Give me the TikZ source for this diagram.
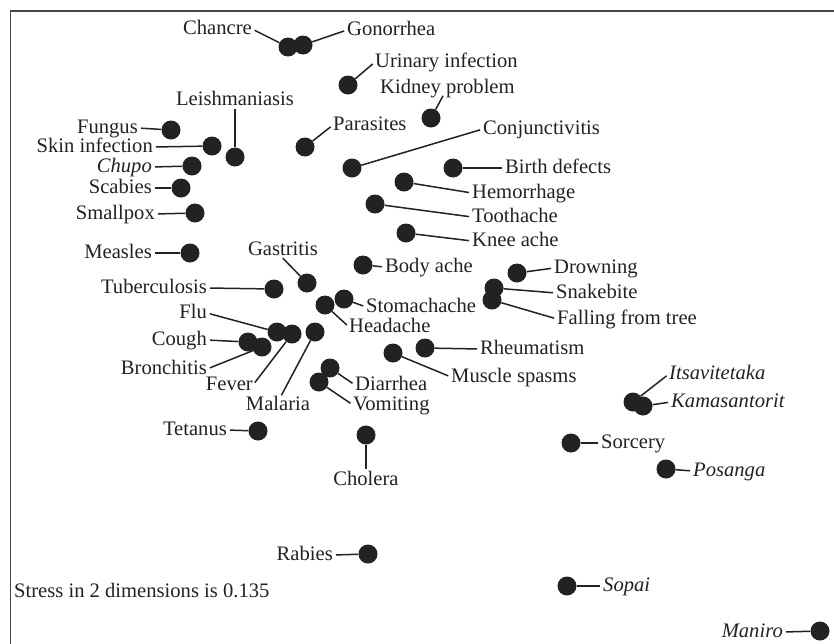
\documentclass[tikz,border=0pt]{standalone}
\usepackage{fontspec}
\setmainfont{Liberation Serif}
\definecolor{ink}{HTML}{222222}
\tikzset{
  dot/.style={circle,fill=ink,draw=none,minimum size=19pt,inner sep=0pt},
  lbl/.style={inner sep=0pt,text height=1.0em,text depth=0pt,text=ink,font=\fontsize{20.6}{24}\selectfont},
  ilbl/.style={lbl,font=\fontsize{20.6}{24}\selectfont\itshape},
  lead/.style={draw=ink,line width=1.5pt},
  frame/.style={draw=ink!85,line width=1.6pt}
}
\begin{document}
\begin{tikzpicture}[x=1pt,y=-1pt]
\clip (0,0) rectangle (834,643);
\fill[white] (0,0) rectangle (834,643);
\draw[frame] (10.5,660) -- (10.5,11) -- (850,11);

% dots
\node[dot] (chancre) at (288,47) {};
\node[dot] (gonorrhea) at (303,45) {};
\node[dot] (urinary) at (348,85) {};
\node[dot] (kidney) at (431,118) {};
\node[dot] (leish) at (235,157) {};
\node[dot] (fungus) at (171,130) {};
\node[dot] (skin) at (212,146) {};
\node[dot] (chupo) at (192,166) {};
\node[dot] (scabies) at (181,188) {};
\node[dot] (smallpox) at (195,213) {};
\node[dot] (measles) at (190,253) {};
\node[dot] (gastritis) at (307,283) {};
\node[dot] (tuberc) at (274,289) {};
\node[dot] (flu) at (277,332) {};
\node[dot] (cough) at (248,342) {};
\node[dot] (bronch) at (262,347) {};
\node[dot] (fever) at (292,334) {};
\node[dot] (malaria) at (315,332) {};
\node[dot] (headache) at (325,305) {};
\node[dot] (stomach) at (344,299) {};
\node[dot] (diarrhea) at (330,368) {};
\node[dot] (vomiting) at (319,382) {};
\node[dot] (tetanus) at (258,431) {};
\node[dot] (cholera) at (366,435) {};
\node[dot] (rabies) at (368,554) {};
\node[dot] (bodyache) at (363,265) {};
\node[dot] (muscle) at (393,353) {};
\node[dot] (rheum) at (425,348) {};
\node[dot] (parasites) at (305,147) {};
\node[dot] (conj) at (352,168) {};
\node[dot] (birth) at (453,168) {};
\node[dot] (hemor) at (404,182) {};
\node[dot] (tooth) at (375,204) {};
\node[dot] (knee) at (406,233) {};
\node[dot] (drown) at (517,273) {};
\node[dot] (snake) at (494,288) {};
\node[dot] (falling) at (492,300) {};
\node[dot] (itsa) at (633,402) {};
\node[dot] (kama) at (643,406) {};
\node[dot] (sorcery) at (571,443) {};
\node[dot] (posanga) at (666,469) {};
\node[dot] (sopai) at (567,586) {};
\node[dot] (maniro) at (820,631) {};

% labels
\node[lbl,anchor=east] (chancreL) at (252,29) {Chancre};
\node[lbl,anchor=west] (gonorrheaL) at (347,30) {Gonorrhea};
\node[lbl,anchor=west] (urinaryL) at (375,62) {Urinary infection};
\node[lbl,anchor=west] (kidneyL) at (380,88) {Kidney problem};
\node[lbl] (leishL) at (235,100) {Leishmaniasis};
\node[lbl,anchor=east] (fungusL) at (138,128) {Fungus};
\node[lbl,anchor=east] (skinL) at (153,147) {Skin infection};
\node[ilbl,anchor=east] (chupoL) at (152,167) {Chupo};
\node[lbl,anchor=east] (scabiesL) at (152,188) {Scabies};
\node[lbl,anchor=east] (smallpoxL) at (155,214) {Smallpox};
\node[lbl,anchor=east] (measlesL) at (152,253) {Measles};
\node[lbl] (gastritisL) at (283,250) {Gastritis};
\node[lbl,anchor=east] (tubercL) at (207,288) {Tuberculosis};
\node[lbl,anchor=east] (fluL) at (207,313) {Flu};
\node[lbl,anchor=east] (coughL) at (207,340) {Cough};
\node[lbl,anchor=east] (bronchL) at (207,369) {Bronchitis};
\node[lbl,anchor=east] (feverL) at (253,385) {Fever};
\node[lbl] (malariaL) at (278,405) {Malaria};
\node[lbl,anchor=west] (headacheL) at (349,327) {Headache};
\node[lbl,anchor=west] (stomachL) at (366,307) {Stomachache};
\node[lbl,anchor=west] (diarrheaL) at (355,385) {Diarrhea};
\node[lbl,anchor=west] (vomitingL) at (353,405) {Vomiting};
\node[lbl,anchor=east] (tetanusL) at (227,430) {Tetanus};
\node[lbl] (choleraL) at (366,480) {Cholera};
\node[lbl,anchor=east] (rabiesL) at (333,555) {Rabies};
\node[lbl,anchor=west] (stress) at (14,592) {Stress in 2 dimensions is 0.135};
\node[lbl,anchor=west] (bodyacheL) at (385,267) {Body ache};
\node[lbl,anchor=west] (muscleL) at (451,377) {Muscle spasms};
\node[lbl,anchor=west] (rheumL) at (480,349) {Rheumatism};
\node[lbl,anchor=west] (parasitesL) at (333,125) {Parasites};
\node[lbl,anchor=west] (conjL) at (483,129) {Conjunctivitis};
\node[lbl,anchor=west] (birthL) at (505,168) {Birth defects};
\node[lbl,anchor=west] (hemorL) at (472,193) {Hemorrhage};
\node[lbl,anchor=west] (toothL) at (472,217) {Toothache};
\node[lbl,anchor=west] (kneeL) at (472,241) {Knee ache};
\node[lbl,anchor=west] (drownL) at (554,268) {Drowning};
\node[lbl,anchor=west] (snakeL) at (556,293) {Snakebite};
\node[lbl,anchor=west] (fallingL) at (557,319) {Falling from tree};
\node[ilbl,anchor=west] (itsaL) at (669,374) {Itsavitetaka};
\node[ilbl,anchor=west] (kamaL) at (671,402) {Kamasantorit};
\node[lbl,anchor=west] (sorceryL) at (601,443) {Sorcery};
\node[ilbl,anchor=west] (posangaL) at (693,471) {Posanga};
\node[ilbl,anchor=west] (sopaiL) at (603,586) {Sopai};
\node[ilbl,anchor=east] (maniroL) at (783,632) {Maniro};

% connectors (label side on left of dot)
\foreach \l/\d in {chancreL/chancre,fungusL/fungus,skinL/skin,chupoL/chupo,scabiesL/scabies,
  smallpoxL/smallpox,measlesL/measles,tubercL/tuberc,fluL/flu,coughL/cough,bronchL/bronch,
  feverL/fever,tetanusL/tetanus,rabiesL/rabies,maniroL/maniro}
  \draw[lead,shorten <=3pt] (\l.east) -- (\d);
% label on right of dot
\foreach \l/\d in {gonorrheaL/gonorrhea,urinaryL/urinary,headacheL/headache,stomachL/stomach,
  diarrheaL/diarrhea,vomitingL/vomiting,bodyacheL/bodyache,muscleL/muscle,rheumL/rheum,
  parasitesL/parasites,conjL/conj,birthL/birth,hemorL/hemor,toothL/tooth,kneeL/knee,
  drownL/drown,snakeL/snake,fallingL/falling,itsaL/itsa,kamaL/kama,sorceryL/sorcery,
  posangaL/posanga,sopaiL/sopai}
  \draw[lead,shorten <=3pt] (\l.west) -- (\d);
\draw[lead,shorten <=3pt] ([xshift=-3pt]kidneyL.south) -- (kidney);
\draw[lead,shorten <=4pt] (leishL.south) -- (leish);
\draw[lead,shorten <=4pt] ([xshift=-3pt]gastritisL.south) -- (gastritis);
\draw[lead,shorten <=5pt] ([xshift=1pt]malariaL.north) -- (malaria);
\draw[lead,shorten <=6pt] (choleraL.north) -- (cholera);
\end{tikzpicture}
\end{document}
